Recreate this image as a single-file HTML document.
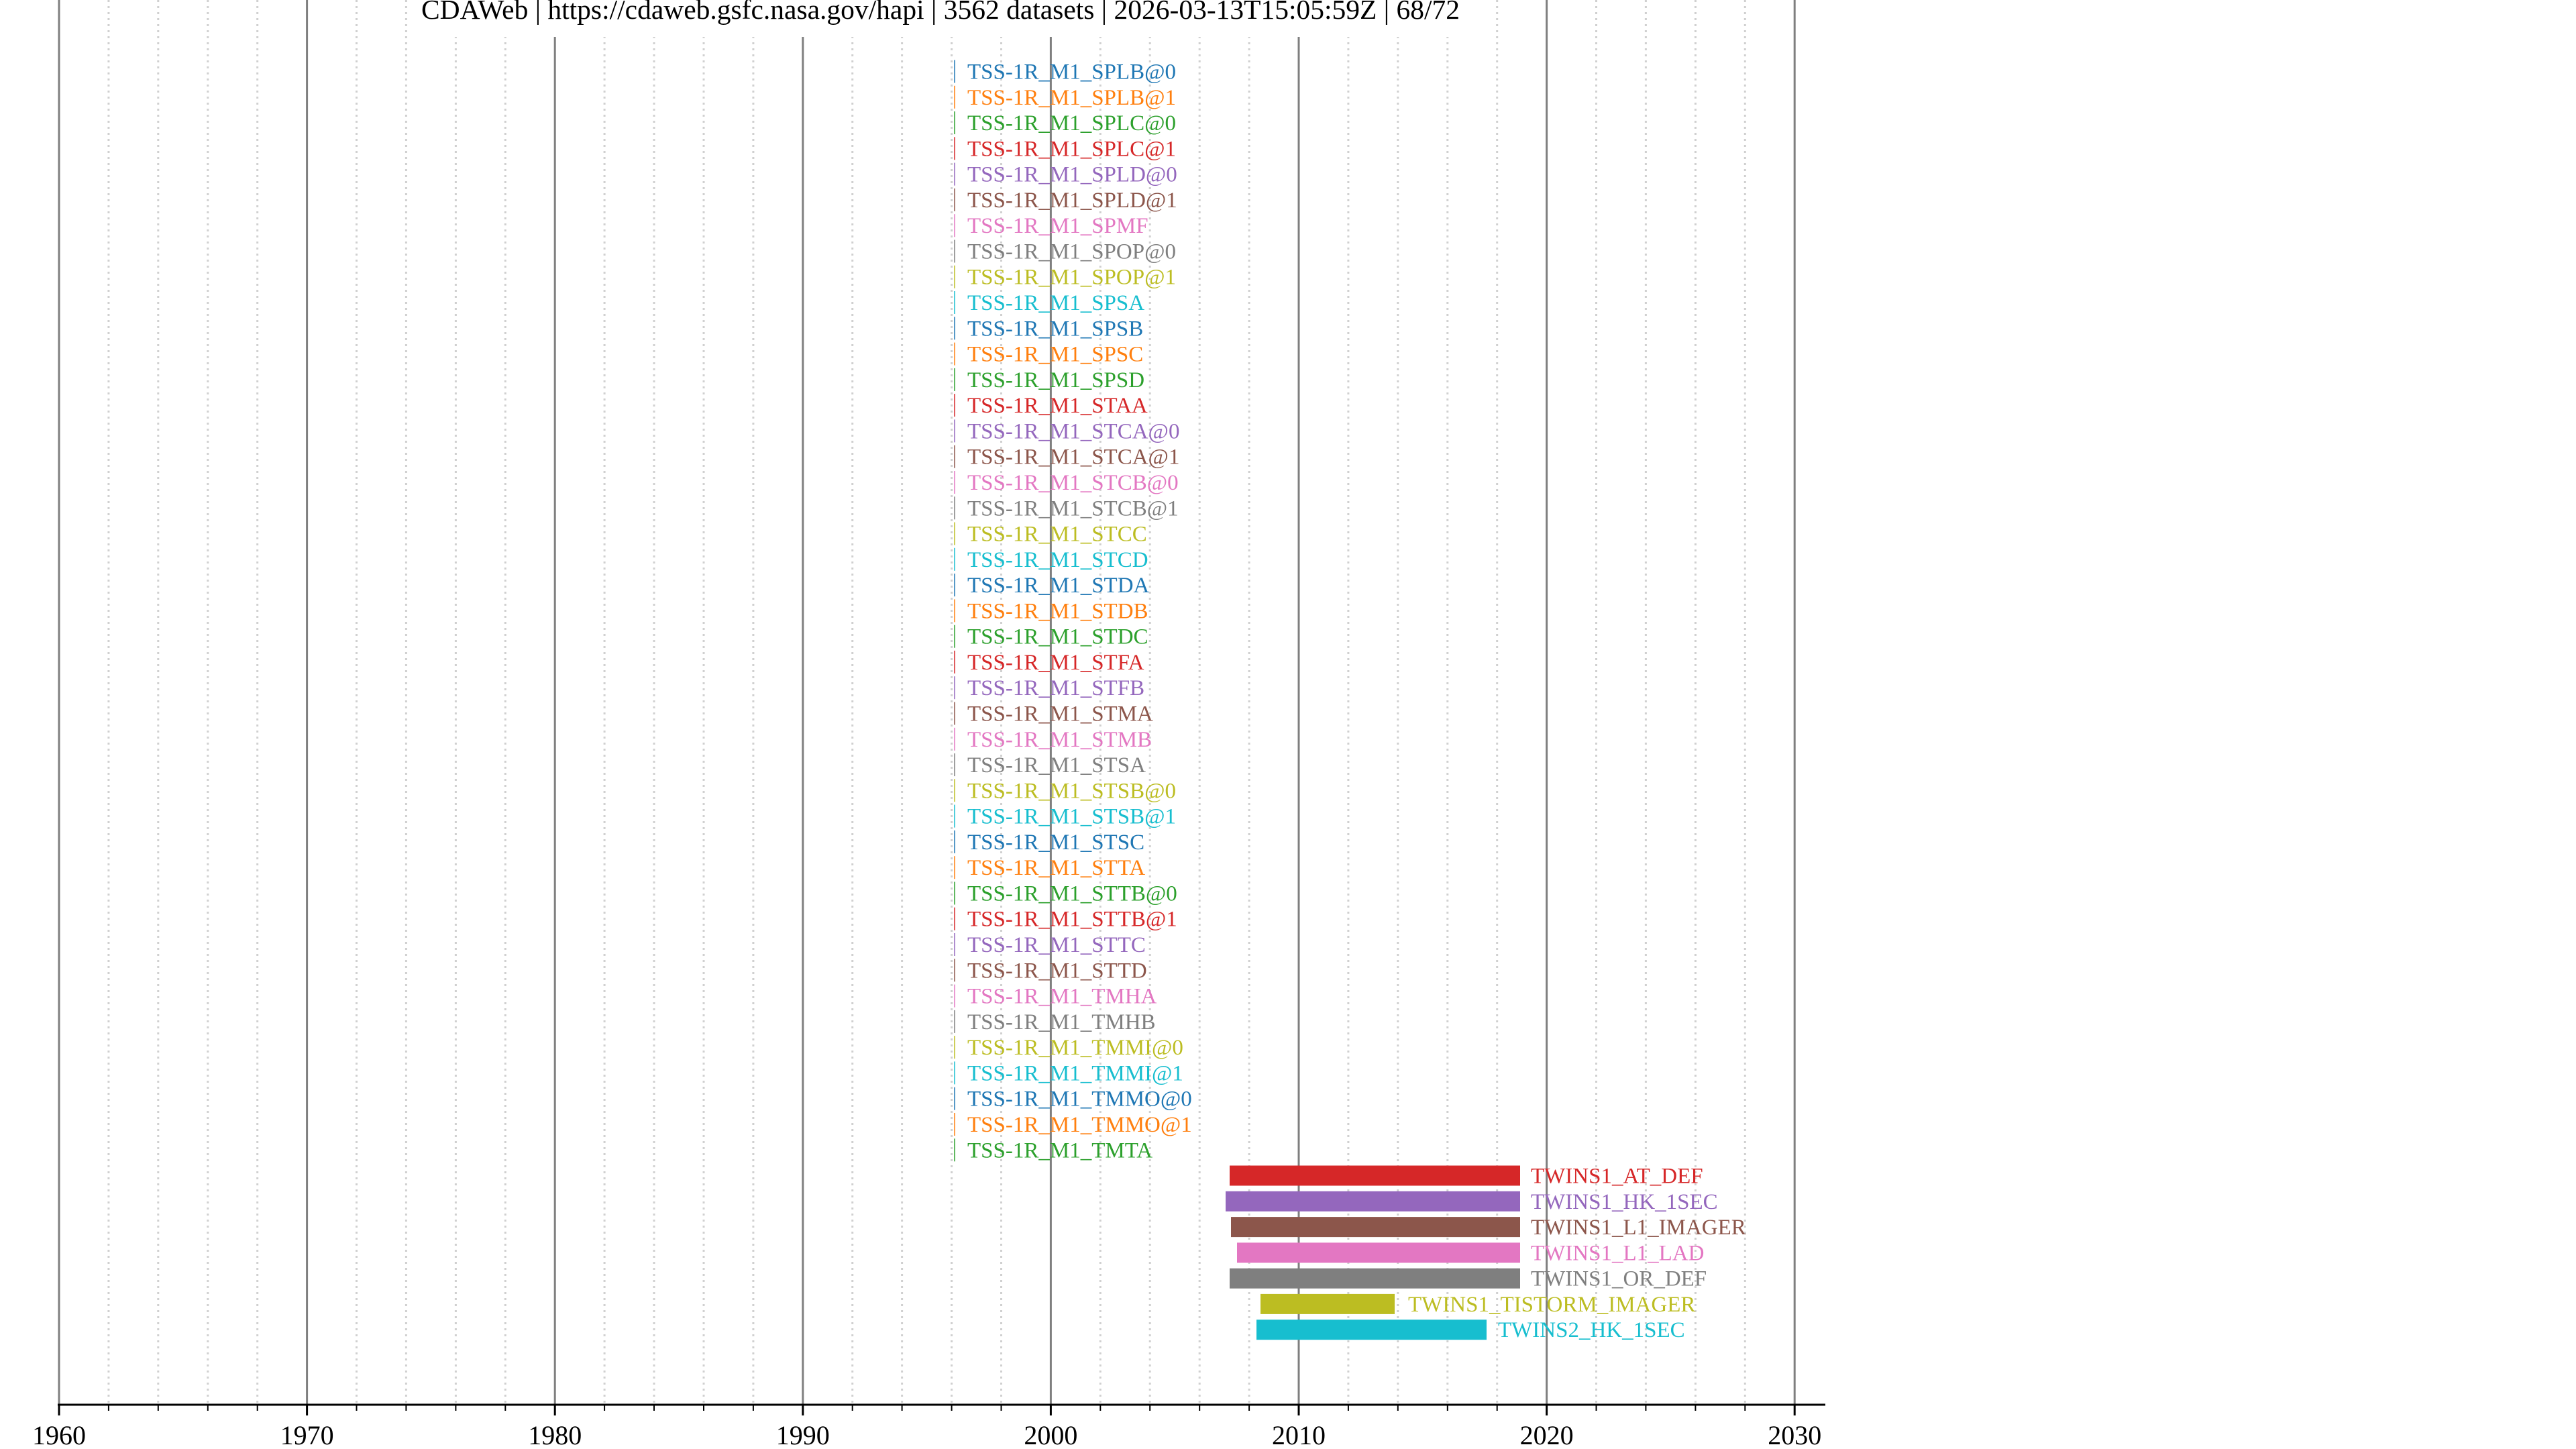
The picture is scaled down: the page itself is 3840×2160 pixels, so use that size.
<!DOCTYPE html>
<html><head><meta charset="utf-8"><style>html,body{margin:0;padding:0;background:#fff;width:3840px;height:2160px;overflow:hidden}svg{display:block}text{font-family:"Liberation Serif",serif}</style></head><body>
<svg width="3840" height="2160" viewBox="0 0 3840 2160" xmlns="http://www.w3.org/2000/svg">
<g stroke="#d0d0d0" stroke-width="3" stroke-dasharray="3,6">
<line x1="161.9" y1="0" x2="161.9" y2="2094"/><line x1="235.8" y1="0" x2="235.8" y2="2094"/><line x1="309.8" y1="0" x2="309.8" y2="2094"/><line x1="383.7" y1="0" x2="383.7" y2="2094"/>
<line x1="531.5" y1="0" x2="531.5" y2="2094"/><line x1="605.4" y1="0" x2="605.4" y2="2094"/><line x1="679.4" y1="0" x2="679.4" y2="2094"/><line x1="753.3" y1="0" x2="753.3" y2="2094"/>
<line x1="901.1" y1="0" x2="901.1" y2="2094"/><line x1="975" y1="0" x2="975" y2="2094"/><line x1="1049" y1="0" x2="1049" y2="2094"/><line x1="1122.9" y1="0" x2="1122.9" y2="2094"/>
<line x1="1270.7" y1="0" x2="1270.7" y2="2094"/><line x1="1344.6" y1="0" x2="1344.6" y2="2094"/><line x1="1418.6" y1="0" x2="1418.6" y2="2094"/><line x1="1492.5" y1="0" x2="1492.5" y2="2094"/>
<line x1="1640.3" y1="0" x2="1640.3" y2="2094"/><line x1="1714.2" y1="0" x2="1714.2" y2="2094"/><line x1="1788.2" y1="0" x2="1788.2" y2="2094"/><line x1="1862.1" y1="0" x2="1862.1" y2="2094"/>
<line x1="2009.9" y1="0" x2="2009.9" y2="2094"/><line x1="2083.8" y1="0" x2="2083.8" y2="2094"/><line x1="2157.8" y1="0" x2="2157.8" y2="2094"/><line x1="2231.7" y1="0" x2="2231.7" y2="2094"/>
<line x1="2379.5" y1="0" x2="2379.5" y2="2094"/><line x1="2453.4" y1="0" x2="2453.4" y2="2094"/><line x1="2527.4" y1="0" x2="2527.4" y2="2094"/><line x1="2601.3" y1="0" x2="2601.3" y2="2094"/>
</g>
<g stroke="#7f7f7f" stroke-width="3">
<line x1="88" y1="0" x2="88" y2="2094"/><line x1="457.6" y1="0" x2="457.6" y2="2094"/><line x1="827.2" y1="0" x2="827.2" y2="2094"/><line x1="1196.8" y1="0" x2="1196.8" y2="2094"/><line x1="1566.4" y1="0" x2="1566.4" y2="2094"/><line x1="1936" y1="0" x2="1936" y2="2094"/><line x1="2305.6" y1="0" x2="2305.6" y2="2094"/><line x1="2675.2" y1="0" x2="2675.2" y2="2094"/>
</g>
<rect x="615" y="0" width="1575" height="55" fill="#fff"/>
<text x="1402" y="28" font-size="41.5" text-anchor="middle" fill="#000">CDAWeb | https://cdaweb.gsfc.nasa.gov/hapi | 3562 datasets | 2026-03-13T15:05:59Z | 68/72</text>
<g font-size="33" transform="translate(0,0.5)">
<g transform="translate(0,106)" fill="#1f77b4" stroke="#1f77b4"><line x1="1423" y1="-17" x2="1423" y2="17" stroke-width="1.5"/><text x="1442" y="11" stroke="none">TSS-1R_M1_SPLB@0</text></g>
<g transform="translate(0,144.3)" fill="#ff7f0e" stroke="#ff7f0e"><line x1="1423" y1="-17" x2="1423" y2="17" stroke-width="1.5"/><text x="1442" y="11" stroke="none">TSS-1R_M1_SPLB@1</text></g>
<g transform="translate(0,182.6)" fill="#2ca02c" stroke="#2ca02c"><line x1="1423" y1="-17" x2="1423" y2="17" stroke-width="1.5"/><text x="1442" y="11" stroke="none">TSS-1R_M1_SPLC@0</text></g>
<g transform="translate(0,220.8)" fill="#d62728" stroke="#d62728"><line x1="1423" y1="-17" x2="1423" y2="17" stroke-width="1.5"/><text x="1442" y="11" stroke="none">TSS-1R_M1_SPLC@1</text></g>
<g transform="translate(0,259.1)" fill="#9467bd" stroke="#9467bd"><line x1="1423" y1="-17" x2="1423" y2="17" stroke-width="1.5"/><text x="1442" y="11" stroke="none">TSS-1R_M1_SPLD@0</text></g>
<g transform="translate(0,297.4)" fill="#8c564b" stroke="#8c564b"><line x1="1423" y1="-17" x2="1423" y2="17" stroke-width="1.5"/><text x="1442" y="11" stroke="none">TSS-1R_M1_SPLD@1</text></g>
<g transform="translate(0,335.7)" fill="#e377c2" stroke="#e377c2"><line x1="1423" y1="-17" x2="1423" y2="17" stroke-width="1.5"/><text x="1442" y="11" stroke="none">TSS-1R_M1_SPMF</text></g>
<g transform="translate(0,374)" fill="#7f7f7f" stroke="#7f7f7f"><line x1="1423" y1="-17" x2="1423" y2="17" stroke-width="1.5"/><text x="1442" y="11" stroke="none">TSS-1R_M1_SPOP@0</text></g>
<g transform="translate(0,412.2)" fill="#bcbd22" stroke="#bcbd22"><line x1="1423" y1="-17" x2="1423" y2="17" stroke-width="1.5"/><text x="1442" y="11" stroke="none">TSS-1R_M1_SPOP@1</text></g>
<g transform="translate(0,450.5)" fill="#17becf" stroke="#17becf"><line x1="1423" y1="-17" x2="1423" y2="17" stroke-width="1.5"/><text x="1442" y="11" stroke="none">TSS-1R_M1_SPSA</text></g>
<g transform="translate(0,488.8)" fill="#1f77b4" stroke="#1f77b4"><line x1="1423" y1="-17" x2="1423" y2="17" stroke-width="1.5"/><text x="1442" y="11" stroke="none">TSS-1R_M1_SPSB</text></g>
<g transform="translate(0,527.1)" fill="#ff7f0e" stroke="#ff7f0e"><line x1="1423" y1="-17" x2="1423" y2="17" stroke-width="1.5"/><text x="1442" y="11" stroke="none">TSS-1R_M1_SPSC</text></g>
<g transform="translate(0,565.4)" fill="#2ca02c" stroke="#2ca02c"><line x1="1423" y1="-17" x2="1423" y2="17" stroke-width="1.5"/><text x="1442" y="11" stroke="none">TSS-1R_M1_SPSD</text></g>
<g transform="translate(0,603.6)" fill="#d62728" stroke="#d62728"><line x1="1423" y1="-17" x2="1423" y2="17" stroke-width="1.5"/><text x="1442" y="11" stroke="none">TSS-1R_M1_STAA</text></g>
<g transform="translate(0,641.9)" fill="#9467bd" stroke="#9467bd"><line x1="1423" y1="-17" x2="1423" y2="17" stroke-width="1.5"/><text x="1442" y="11" stroke="none">TSS-1R_M1_STCA@0</text></g>
<g transform="translate(0,680.2)" fill="#8c564b" stroke="#8c564b"><line x1="1423" y1="-17" x2="1423" y2="17" stroke-width="1.5"/><text x="1442" y="11" stroke="none">TSS-1R_M1_STCA@1</text></g>
<g transform="translate(0,718.5)" fill="#e377c2" stroke="#e377c2"><line x1="1423" y1="-17" x2="1423" y2="17" stroke-width="1.5"/><text x="1442" y="11" stroke="none">TSS-1R_M1_STCB@0</text></g>
<g transform="translate(0,756.8)" fill="#7f7f7f" stroke="#7f7f7f"><line x1="1423" y1="-17" x2="1423" y2="17" stroke-width="1.5"/><text x="1442" y="11" stroke="none">TSS-1R_M1_STCB@1</text></g>
<g transform="translate(0,795)" fill="#bcbd22" stroke="#bcbd22"><line x1="1423" y1="-17" x2="1423" y2="17" stroke-width="1.5"/><text x="1442" y="11" stroke="none">TSS-1R_M1_STCC</text></g>
<g transform="translate(0,833.3)" fill="#17becf" stroke="#17becf"><line x1="1423" y1="-17" x2="1423" y2="17" stroke-width="1.5"/><text x="1442" y="11" stroke="none">TSS-1R_M1_STCD</text></g>
<g transform="translate(0,871.6)" fill="#1f77b4" stroke="#1f77b4"><line x1="1423" y1="-17" x2="1423" y2="17" stroke-width="1.5"/><text x="1442" y="11" stroke="none">TSS-1R_M1_STDA</text></g>
<g transform="translate(0,909.9)" fill="#ff7f0e" stroke="#ff7f0e"><line x1="1423" y1="-17" x2="1423" y2="17" stroke-width="1.5"/><text x="1442" y="11" stroke="none">TSS-1R_M1_STDB</text></g>
<g transform="translate(0,948.2)" fill="#2ca02c" stroke="#2ca02c"><line x1="1423" y1="-17" x2="1423" y2="17" stroke-width="1.5"/><text x="1442" y="11" stroke="none">TSS-1R_M1_STDC</text></g>
<g transform="translate(0,986.4)" fill="#d62728" stroke="#d62728"><line x1="1423" y1="-17" x2="1423" y2="17" stroke-width="1.5"/><text x="1442" y="11" stroke="none">TSS-1R_M1_STFA</text></g>
<g transform="translate(0,1024.7)" fill="#9467bd" stroke="#9467bd"><line x1="1423" y1="-17" x2="1423" y2="17" stroke-width="1.5"/><text x="1442" y="11" stroke="none">TSS-1R_M1_STFB</text></g>
<g transform="translate(0,1063)" fill="#8c564b" stroke="#8c564b"><line x1="1423" y1="-17" x2="1423" y2="17" stroke-width="1.5"/><text x="1442" y="11" stroke="none">TSS-1R_M1_STMA</text></g>
<g transform="translate(0,1101.3)" fill="#e377c2" stroke="#e377c2"><line x1="1423" y1="-17" x2="1423" y2="17" stroke-width="1.5"/><text x="1442" y="11" stroke="none">TSS-1R_M1_STMB</text></g>
<g transform="translate(0,1139.6)" fill="#7f7f7f" stroke="#7f7f7f"><line x1="1423" y1="-17" x2="1423" y2="17" stroke-width="1.5"/><text x="1442" y="11" stroke="none">TSS-1R_M1_STSA</text></g>
<g transform="translate(0,1177.8)" fill="#bcbd22" stroke="#bcbd22"><line x1="1423" y1="-17" x2="1423" y2="17" stroke-width="1.5"/><text x="1442" y="11" stroke="none">TSS-1R_M1_STSB@0</text></g>
<g transform="translate(0,1216.1)" fill="#17becf" stroke="#17becf"><line x1="1423" y1="-17" x2="1423" y2="17" stroke-width="1.5"/><text x="1442" y="11" stroke="none">TSS-1R_M1_STSB@1</text></g>
<g transform="translate(0,1254.4)" fill="#1f77b4" stroke="#1f77b4"><line x1="1423" y1="-17" x2="1423" y2="17" stroke-width="1.5"/><text x="1442" y="11" stroke="none">TSS-1R_M1_STSC</text></g>
<g transform="translate(0,1292.7)" fill="#ff7f0e" stroke="#ff7f0e"><line x1="1423" y1="-17" x2="1423" y2="17" stroke-width="1.5"/><text x="1442" y="11" stroke="none">TSS-1R_M1_STTA</text></g>
<g transform="translate(0,1331)" fill="#2ca02c" stroke="#2ca02c"><line x1="1423" y1="-17" x2="1423" y2="17" stroke-width="1.5"/><text x="1442" y="11" stroke="none">TSS-1R_M1_STTB@0</text></g>
<g transform="translate(0,1369.2)" fill="#d62728" stroke="#d62728"><line x1="1423" y1="-17" x2="1423" y2="17" stroke-width="1.5"/><text x="1442" y="11" stroke="none">TSS-1R_M1_STTB@1</text></g>
<g transform="translate(0,1407.5)" fill="#9467bd" stroke="#9467bd"><line x1="1423" y1="-17" x2="1423" y2="17" stroke-width="1.5"/><text x="1442" y="11" stroke="none">TSS-1R_M1_STTC</text></g>
<g transform="translate(0,1445.8)" fill="#8c564b" stroke="#8c564b"><line x1="1423" y1="-17" x2="1423" y2="17" stroke-width="1.5"/><text x="1442" y="11" stroke="none">TSS-1R_M1_STTD</text></g>
<g transform="translate(0,1484.1)" fill="#e377c2" stroke="#e377c2"><line x1="1423" y1="-17" x2="1423" y2="17" stroke-width="1.5"/><text x="1442" y="11" stroke="none">TSS-1R_M1_TMHA</text></g>
<g transform="translate(0,1522.4)" fill="#7f7f7f" stroke="#7f7f7f"><line x1="1423" y1="-17" x2="1423" y2="17" stroke-width="1.5"/><text x="1442" y="11" stroke="none">TSS-1R_M1_TMHB</text></g>
<g transform="translate(0,1560.6)" fill="#bcbd22" stroke="#bcbd22"><line x1="1423" y1="-17" x2="1423" y2="17" stroke-width="1.5"/><text x="1442" y="11" stroke="none">TSS-1R_M1_TMMI@0</text></g>
<g transform="translate(0,1598.9)" fill="#17becf" stroke="#17becf"><line x1="1423" y1="-17" x2="1423" y2="17" stroke-width="1.5"/><text x="1442" y="11" stroke="none">TSS-1R_M1_TMMI@1</text></g>
<g transform="translate(0,1637.2)" fill="#1f77b4" stroke="#1f77b4"><line x1="1423" y1="-17" x2="1423" y2="17" stroke-width="1.5"/><text x="1442" y="11" stroke="none">TSS-1R_M1_TMMO@0</text></g>
<g transform="translate(0,1675.5)" fill="#ff7f0e" stroke="#ff7f0e"><line x1="1423" y1="-17" x2="1423" y2="17" stroke-width="1.5"/><text x="1442" y="11" stroke="none">TSS-1R_M1_TMMO@1</text></g>
<g transform="translate(0,1713.8)" fill="#2ca02c" stroke="#2ca02c"><line x1="1423" y1="-17" x2="1423" y2="17" stroke-width="1.5"/><text x="1442" y="11" stroke="none">TSS-1R_M1_TMTA</text></g>
<g transform="translate(0,1752)" fill="#d62728"><rect x="1833" y="-15" width="433" height="30"/><text x="2282" y="11">TWINS1_AT_DEF</text></g>
<g transform="translate(0,1790.3)" fill="#9467bd"><rect x="1827" y="-15" width="439" height="30"/><text x="2282" y="11">TWINS1_HK_1SEC</text></g>
<g transform="translate(0,1828.6)" fill="#8c564b"><rect x="1835" y="-15" width="431" height="30"/><text x="2282" y="11">TWINS1_L1_IMAGER</text></g>
<g transform="translate(0,1866.9)" fill="#e377c2"><rect x="1844" y="-15" width="422" height="30"/><text x="2282" y="11">TWINS1_L1_LAD</text></g>
<g transform="translate(0,1905.2)" fill="#7f7f7f"><rect x="1833" y="-15" width="433" height="30"/><text x="2282" y="11">TWINS1_OR_DEF</text></g>
<g transform="translate(0,1943.4)" fill="#bcbd22"><rect x="1879" y="-15" width="200" height="30"/><text x="2099" y="11">TWINS1_TISTORM_IMAGER</text></g>
<g transform="translate(0,1981.7)" fill="#17becf"><rect x="1873" y="-15" width="343" height="30"/><text x="2233" y="11">TWINS2_HK_1SEC</text></g>
</g>
<line x1="86" y1="2094" x2="2721" y2="2094" stroke="#000" stroke-width="3"/>
<g stroke="#000" stroke-width="3">
<line x1="88" y1="2094" x2="88" y2="2110"/><line x1="457.6" y1="2094" x2="457.6" y2="2110"/><line x1="827.2" y1="2094" x2="827.2" y2="2110"/><line x1="1196.8" y1="2094" x2="1196.8" y2="2110"/><line x1="1566.4" y1="2094" x2="1566.4" y2="2110"/><line x1="1936" y1="2094" x2="1936" y2="2110"/><line x1="2305.6" y1="2094" x2="2305.6" y2="2110"/><line x1="2675.2" y1="2094" x2="2675.2" y2="2110"/>
</g>
<g stroke="#000" stroke-width="2">
<line x1="161.9" y1="2094" x2="161.9" y2="2103"/><line x1="235.8" y1="2094" x2="235.8" y2="2103"/><line x1="309.8" y1="2094" x2="309.8" y2="2103"/><line x1="383.7" y1="2094" x2="383.7" y2="2103"/>
<line x1="531.5" y1="2094" x2="531.5" y2="2103"/><line x1="605.4" y1="2094" x2="605.4" y2="2103"/><line x1="679.4" y1="2094" x2="679.4" y2="2103"/><line x1="753.3" y1="2094" x2="753.3" y2="2103"/>
<line x1="901.1" y1="2094" x2="901.1" y2="2103"/><line x1="975" y1="2094" x2="975" y2="2103"/><line x1="1049" y1="2094" x2="1049" y2="2103"/><line x1="1122.9" y1="2094" x2="1122.9" y2="2103"/>
<line x1="1270.7" y1="2094" x2="1270.7" y2="2103"/><line x1="1344.6" y1="2094" x2="1344.6" y2="2103"/><line x1="1418.6" y1="2094" x2="1418.6" y2="2103"/><line x1="1492.5" y1="2094" x2="1492.5" y2="2103"/>
<line x1="1640.3" y1="2094" x2="1640.3" y2="2103"/><line x1="1714.2" y1="2094" x2="1714.2" y2="2103"/><line x1="1788.2" y1="2094" x2="1788.2" y2="2103"/><line x1="1862.1" y1="2094" x2="1862.1" y2="2103"/>
<line x1="2009.9" y1="2094" x2="2009.9" y2="2103"/><line x1="2083.8" y1="2094" x2="2083.8" y2="2103"/><line x1="2157.8" y1="2094" x2="2157.8" y2="2103"/><line x1="2231.7" y1="2094" x2="2231.7" y2="2103"/>
<line x1="2379.5" y1="2094" x2="2379.5" y2="2103"/><line x1="2453.4" y1="2094" x2="2453.4" y2="2103"/><line x1="2527.4" y1="2094" x2="2527.4" y2="2103"/><line x1="2601.3" y1="2094" x2="2601.3" y2="2103"/>
</g>
<g font-size="40" text-anchor="middle" fill="#000">
<text x="88" y="2153">1960</text><text x="457.6" y="2153">1970</text><text x="827.2" y="2153">1980</text><text x="1196.8" y="2153">1990</text><text x="1566.4" y="2153">2000</text><text x="1936" y="2153">2010</text><text x="2305.6" y="2153">2020</text><text x="2675.2" y="2153">2030</text>
</g>
</svg>
</body></html>
